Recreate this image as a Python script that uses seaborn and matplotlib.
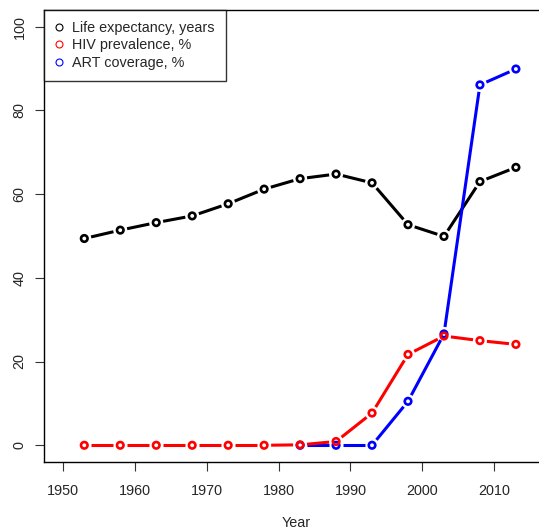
import numpy as np
import pandas as pd
import matplotlib
matplotlib.use("Agg")
import matplotlib.pyplot as plt
from matplotlib.lines import Line2D
import seaborn as sns

# data
years = [1953, 1958, 1963, 1968, 1973, 1978, 1983, 1988, 1993, 1998, 2003, 2008, 2013]
life_exp = [49.4, 51.4, 53.2, 54.8, 57.7, 61.2, 63.7, 64.8, 62.7, 52.7, 49.9, 63.0, 66.4]
hiv_prev = [0, 0, 0, 0, 0, 0, 0.1, 0.9, 7.7, 21.7, 26.1, 25.0, 24.1]
art_years = [1983, 1988, 1993, 1998, 2003, 2008, 2013]
art_cov = [0, 0, 0, 10.5, 26.6, 86.1, 89.9]

x_ticks = [1950, 1960, 1970, 1980, 1990, 2000, 2010]
y_ticks = [0, 20, 40, 60, 80, 100]
labels = ["Life expectancy, years", "HIV prevalence, %", "ART coverage, %"]
colors = ["black", "red", "blue"]

sns.set_style("ticks")
plt.rcParams["font.family"] = ["Liberation Sans", "DejaVu Sans"]
plt.rcParams["font.size"] = 10.4

fig = plt.figure(figsize=(5.39, 5.31), dpi=100)
ax = fig.add_axes([44 / 539, 1 - 462 / 531, 505 / 539, 452 / 531])
ax.set_xlim(1947.4, 2017.6)
ax.set_ylim(-4, 104)

series = pd.concat([
    pd.DataFrame({"year": years, "value": life_exp, "what": labels[0]}),
    pd.DataFrame({"year": art_years, "value": art_cov, "what": labels[2]}),
    pd.DataFrame({"year": years, "value": hiv_prev, "what": labels[1]}),
])
palette = dict(zip(labels, colors))


def gapped_line(ax, x, y, color, gap=7.0, z=2):
    # R type="b": segments stop short of each point
    pts = ax.transData.transform(np.column_stack([x, y]))
    inv = ax.transData.inverted()
    for p, q in zip(pts[:-1], pts[1:]):
        d = q - p
        L = np.hypot(*d)
        if L <= 2 * gap:
            continue
        u = d / L
        a, b = inv.transform(np.array([p + u * gap, q - u * gap]))
        ax.plot([a[0], b[0]], [a[1], b[1]], color=color, lw=2.2,
                solid_capstyle="butt", zorder=z)


for i, name in enumerate([labels[0], labels[2], labels[1]]):
    d = series[series["what"] == name]
    c = palette[name]
    gapped_line(ax, d["year"].values, d["value"].values, c, z=2 + i)
    sns.scatterplot(x=d["year"], y=d["value"], ax=ax, s=22, marker="o",
                    facecolor="none", edgecolor=c, linewidth=1.9,
                    zorder=2.5 + i, legend=False)

ax.set_xticks(x_ticks)
ax.set_yticks(y_ticks)
ax.set_yticklabels([str(v) for v in y_ticks], rotation=90, va="center")
ax.tick_params(axis="both", length=6.5, width=0.8, color="#333333", labelsize=10.4)
ax.tick_params(axis="x", pad=9.5)
ax.tick_params(axis="y", pad=6)
ax.set_xlabel("Year", labelpad=13, fontsize=10.4)
ax.set_ylabel("")
for s in ax.spines.values():
    s.set_visible(True)
    s.set_color("black")
    s.set_linewidth(1.0)

handles = [Line2D([], [], ls="none", marker="o", ms=5, mfc="none", mec=c, mew=0.8)
           for c in colors]
leg = ax.legend(handles, labels, loc="upper left", bbox_to_anchor=(0, 1),
                borderaxespad=0, frameon=True, fancybox=False, edgecolor="black",
                handlelength=0.6, handletextpad=0.6, labelspacing=0.25,
                borderpad=0.75, fontsize=10.4)
leg.get_frame().set_linewidth(1.0)

fig.savefig("out.png", dpi=100)
